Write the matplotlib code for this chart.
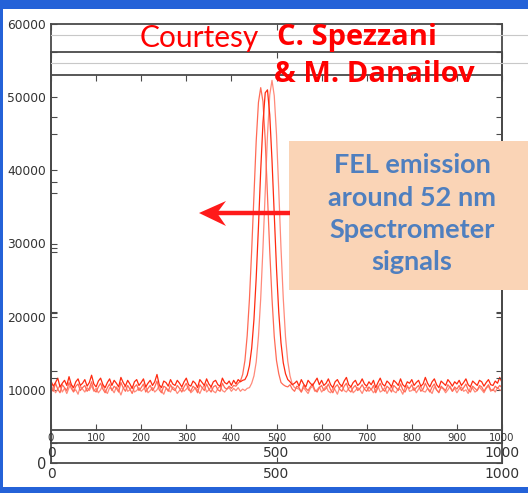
import matplotlib
matplotlib.use("Agg")
import matplotlib.pyplot as plt
from matplotlib.patches import Rectangle, Polygon
from matplotlib.lines import Line2D

# Spectrometer channel (one reading every 5 channels) and three signals
channel = list(range(0, 1001, 5))

signal_a = [
    10400, 9800, 10900, 10100, 9600, 10700, 10300, 9900, 11000, 10200, 9700, 10500, 10800, 9900, 10300, 10600, 9800, 10200, 11100, 10000,
    9700, 10400, 10900, 10100, 9600, 10300, 10800, 9900, 10500, 10200, 9700, 11000, 10300, 9800, 10600, 10100, 9500, 10400, 10700, 9900,
    10300, 10800, 9700, 10200, 10600, 9900, 10400, 11200, 10000, 9600, 10500, 10300, 9800, 10700, 10100, 9900, 10600, 10200, 9700, 10400,
    10900, 10000, 9800, 10500, 10200, 9600, 10700, 10300, 9900, 10800, 10100, 9700, 10400, 10600, 10000, 9800, 10900, 10300, 10100, 10500,
    10200, 10600, 10500, 10900, 11200, 12100, 14000, 17400, 22400, 29100, 36700, 44000, 49300, 51300, 49400, 44100, 36600, 29000, 22500, 17300,
    14000, 12200, 11000, 10700, 10500, 10400, 10700, 10100, 9800, 10500, 10300, 9700, 10600, 10200, 9900, 10400, 10800, 10000, 9700, 10300,
    10600, 9900, 10200, 10800, 10000, 9600, 10400, 10700, 10100, 9800, 10500, 10900, 10000, 9700, 10300, 10600, 9900, 10200, 10700, 10100,
    9800, 10400, 10000, 10600, 9600, 10300, 10900, 10100, 9800, 10500, 10200, 9700, 10600, 10300, 9900, 10800, 10000, 9700, 10400, 10200,
    10700, 9900, 10300, 10600, 9800, 10100, 10900, 10200, 9700, 10400, 10800, 10000, 9600, 10500, 10200, 9900, 10700, 10300, 9800, 10400,
    10100, 10600, 9900, 10300, 10800, 10000, 9700, 10500, 10200, 9900, 10600, 10400, 9800, 10300, 10700, 10000, 9900, 10500, 10200, 10600,
    10300,
]

signal_b = [
    11200, 10500, 11000, 11600, 10400, 10900, 11300, 10600, 11800, 10700, 10300, 11100, 11500, 10600, 10900, 11400, 10500, 11000, 12000, 10800,
    10400, 11200, 11600, 10700, 10300, 11000, 11500, 10600, 11300, 10900, 10400, 11700, 11000, 10500, 11300, 10800, 10200, 11100, 11400, 10600,
    11000, 11500, 10400, 10900, 11300, 10600, 11100, 12100, 10700, 10300, 11200, 11000, 10500, 11400, 10800, 10600, 11300, 10900, 10400, 11100,
    11600, 10700, 10500, 11200, 10900, 10300, 11400, 11000, 10600, 11500, 10800, 10400, 11100, 11300, 10700, 10500, 11600, 11000, 10800, 11200,
    10600, 11300, 10800, 11400, 11100, 11300, 11400, 12000, 13300, 15700, 19600, 25300, 32300, 40000, 46500, 50600, 51000, 47600, 41400, 33900,
    26600, 20600, 16400, 13700, 12200, 11400, 11100, 10700, 10900, 11200, 10500, 11400, 10800, 10400, 11300, 10900, 10600, 11100, 11600, 10700,
    11300, 10600, 10900, 11500, 10700, 10300, 11100, 11400, 10800, 10500, 11200, 11700, 10700, 10400, 11000, 11300, 10600, 10900, 11500, 10800,
    10500, 11100, 10700, 11300, 10300, 11000, 11600, 10800, 10500, 11200, 10900, 10400, 11300, 11000, 10600, 11500, 10700, 10400, 11100, 10900,
    11400, 10600, 11000, 11300, 10500, 10800, 11700, 10900, 10400, 11100, 11500, 10700, 10300, 11200, 10900, 10600, 11400, 11000, 10500, 11100,
    10800, 11300, 10600, 11000, 11500, 10700, 10400, 11200, 10900, 10600, 11300, 11100, 10500, 11000, 11400, 10700, 10600, 11200, 10900, 11700,
    11000,
]

signal_c = [
    9900, 10400, 9600, 10100, 10600, 9700, 10200, 9500, 10300, 10800, 9800, 10000, 9400, 10500, 10100, 9700, 10300, 9900, 10600, 9800,
    10200, 9600, 10000, 10700, 9900, 9500, 10300, 10100, 9600, 10400, 10000, 9300, 10200, 10600, 9800, 10000, 10500, 9700, 9900, 10300,
    9800, 10100, 10500, 9600, 9900, 10300, 9700, 10000, 10600, 9800, 9400, 10200, 10000, 9700, 10400, 10100, 9500, 9900, 10300, 9800,
    10100, 10500, 9600, 9900, 10300, 10000, 9500, 10200, 10600, 9700, 10000, 10400, 9800, 9600, 10200, 10500, 9900, 9700, 10100, 10300,
    9800, 10200, 9900, 10300, 9800, 10100, 9900, 10200, 10300, 10900, 11900, 13800, 17300, 22500, 29400, 37200, 44800, 50300, 52300, 50200,
    44900, 37300, 29300, 22500, 17200, 13900, 11900, 10800, 10300, 10200, 10100, 9700, 10300, 9900, 9500, 10200, 10500, 9800, 10000, 10400,
    9700, 10100, 10500, 9800, 9600, 10200, 10000, 9400, 10300, 10600, 9900, 9700, 10200, 10400, 9600, 9900, 10300, 10000, 9500, 10200,
    10400, 9800, 10100, 9600, 10000, 10500, 9700, 9900, 10300, 9500, 10100, 10400, 9800, 9600, 10200, 10000, 9400, 10300, 10600, 9800,
    9900, 10300, 9600, 10100, 10500, 9800, 9700, 10200, 9900, 9500, 10400, 10000, 9700, 10300, 10100, 9600, 10000, 10500, 9800, 10200,
    9600, 10100, 10400, 9800, 10000, 9500, 10300, 10200, 9700, 9900, 10400, 10000, 9600, 10200, 10500, 9800, 10100, 9700, 10300, 10000,
    9900,
]

y_ticks = [0, 10000, 20000, 30000, 40000, 50000, 60000]
x_ticks_coarse = [0, 500, 1000]
x_ticks_fine = list(range(0, 1001, 100))

W, H = 528, 493
fig = plt.figure(figsize=(W / 100, H / 100), dpi=100)
fig.patch.set_facecolor("#2462d8")


def fx(px):
    return px / W


def fy(py):
    return 1 - py / H


# white slide panel
fig.add_artist(Rectangle((fx(3), fy(487)), fx(528) - fx(3), fy(9) - fy(487),
                         transform=fig.transFigure, facecolor="white",
                         edgecolor="none", zorder=-5))

spine_col = "#4a4a4a"
tick_col = "#333333"


def style(ax):
    ax.set_facecolor("none")
    for s in ax.spines.values():
        s.set_color(spine_col)
        s.set_linewidth(1.3)
    ax.tick_params(direction="in", top=True, right=True, length=4,
                   color=spine_col, labelcolor=tick_col)
    ax.set_xlim(0, 1000)


left, right = fx(51), fx(502)

# stacked axes (the screenshot shows three overlapping plot frames)
ax1 = fig.add_axes([left, fy(463), right - left, fy(24) - fy(463)])
ax2 = fig.add_axes([left, fy(443), right - left, fy(52) - fy(443)])
ax3 = fig.add_axes([left, fy(430), right - left, fy(75) - fy(430)])

for ax in (ax1, ax2, ax3):
    style(ax)

ax1.set_ylim(0, 60000)
ax1.set_yticks(y_ticks)
ax1.set_yticklabels([str(v) for v in y_ticks], fontsize=8.8)
ax1.get_yticklabels()[0].set_fontsize(10.5)
ax1.set_xticks(x_ticks_coarse)
ax1.set_xticklabels([str(v) for v in x_ticks_coarse], fontsize=10)
ax1.tick_params(axis="x", pad=3)

ax2.set_ylim(0, 60000)
ax2.set_yticks(y_ticks)
ax2.set_yticklabels([])
ax2.set_xticks(x_ticks_coarse)
ax2.set_xticklabels([str(v) for v in x_ticks_coarse], fontsize=10)
ax2.tick_params(axis="x", pad=2)

ax3.set_ylim(0, 60000)
ax3.set_yticks(y_ticks[1:-1])
ax3.set_yticklabels([])
ax3.set_xticks(x_ticks_fine)
ax3.set_xticklabels([str(v) for v in x_ticks_fine], fontsize=7.3)
ax3.tick_params(axis="x", pad=2)

ax1.plot(channel, signal_c, color="#ff8a7a", lw=0.9)
ax1.plot(channel, signal_a, color="#ff6a55", lw=0.9)
ax1.plot(channel, signal_b, color="#ff2a10", lw=0.9)

# faint horizontal lines from the slide
for py in (35, 63):
    fig.add_artist(Line2D([fx(51), 1], [fy(py), fy(py)], transform=fig.transFigure,
                          color="#c8c8c8", lw=0.8, zorder=1))

red = "#ff0000"
fig.text(fx(140), fy(38), "Courtesy", color=red, fontsize=21.5, family="Lato",
         ha="left", va="center")
fig.text(fx(277), fy(38), "C. Spezzani", color=red, fontsize=21, family="Open Sans",
         weight="bold", ha="left", va="center")
fig.text(fx(274), fy(75), "& M. Danailov", color=red, fontsize=21, family="Open Sans",
         weight="bold", ha="left", va="center")

# annotation box
fig.add_artist(Rectangle((fx(289), fy(290)), 1 - fx(289), fy(141) - fy(290),
                         transform=fig.transFigure, facecolor="#fad4b6",
                         edgecolor="none", zorder=4))
blue = "#4f7fbf"
for py, line in zip((165, 198, 230, 262),
                    ("FEL emission", "around 52 nm", "Spectrometer", "signals")):
    fig.text(fx(412), fy(py), line, color=blue, fontsize=19.5, family="Lato",
             weight="bold", ha="center", va="center", zorder=5)

# red arrow pointing to the spectra
arrow_red = "#ff1a1a"
fig.add_artist(Line2D([fx(216), fx(290)], [fy(213), fy(213)], transform=fig.transFigure,
                      color=arrow_red, lw=3.2, solid_capstyle="butt", zorder=5))
fig.add_artist(Polygon([(fx(199), fy(213)), (fx(226), fy(201)), (fx(217), fy(213)),
                        (fx(226), fy(226))], closed=True, transform=fig.transFigure,
                       facecolor=arrow_red, edgecolor="none", zorder=5))

fig.savefig("out.png", dpi=100, facecolor=fig.get_facecolor())
